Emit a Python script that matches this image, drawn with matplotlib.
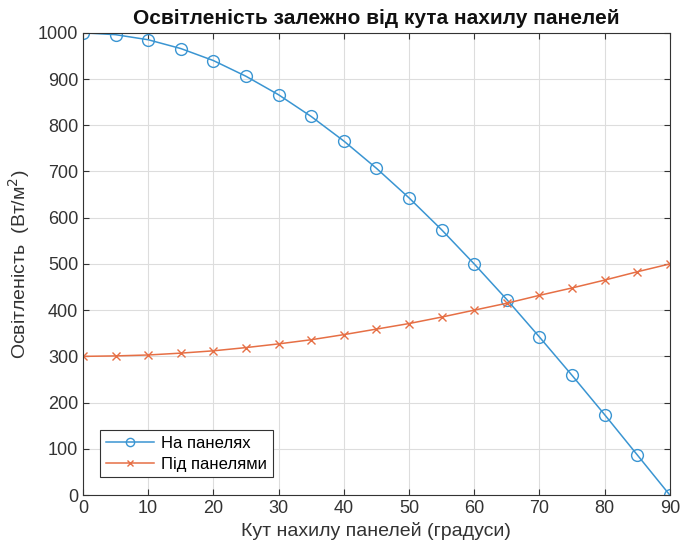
import numpy as np
import matplotlib
matplotlib.use('Agg')
import matplotlib.pyplot as plt

# angle of the panels (degrees)
angles = [0, 5, 10, 15, 20, 25, 30, 35, 40, 45, 50, 55, 60, 65, 70, 75, 80, 85, 90]
# irradiance on the panels
on_panels = [1000, 996, 985, 966, 940, 906, 866, 819, 766, 707, 643, 574, 500,
             423, 342, 259, 174, 87, 0]
# irradiance under the panels
under_panels = [300, 301, 303, 307, 312, 319, 327, 336, 347, 359, 371, 385, 400,
                415, 432, 448, 465, 483, 500]

plt.rcParams['font.family'] = ['Liberation Sans', 'DejaVu Sans']

fig = plt.figure(figsize=(6.8, 5.47), dpi=100)
ax = fig.add_axes([0.122, 0.095, 0.863, 0.845])

ax.plot(angles, on_panels, color='#3a95d2', marker='o', markersize=8.5,
        markerfacecolor='none', linewidth=1.1, label='На панелях')
ax.plot(angles, under_panels, color='#e66f45', marker='x', markersize=6,
        linewidth=1.1, label='Під панелями')

ax.set_xlim(0, 90)
ax.set_ylim(0, 1000)
ax.set_xticks(range(0, 91, 10))
ax.set_yticks(range(0, 1001, 100))
ax.grid(True, color='#dddddd', linewidth=0.8)
ax.set_axisbelow(True)
ax.tick_params(direction='in', top=True, right=True, labelsize=13,
               colors='#333333', length=4)
for s in ax.spines.values():
    s.set_color('#333333')
    s.set_linewidth(0.8)

ax.set_title('Освітленість залежно від кута нахилу панелей', fontsize=15,
             fontweight='bold', pad=6, color='#111111')
ax.set_xlabel('Кут нахилу панелей (градуси)', fontsize=14, color='#333333')
ax.set_ylabel('Освітленість  (Вт/м$^2$)', fontsize=14, color='#333333')

leg = ax.legend(loc='lower left', bbox_to_anchor=(0.015, 0.02), fontsize=12,
                fancybox=False, edgecolor='#333333', framealpha=1,
                borderpad=0.35, handlelength=2.9, markerscale=0.7,
                handletextpad=0.4, labelspacing=0.35)
leg.get_frame().set_linewidth(0.8)

plt.savefig('out.png', dpi=100)
